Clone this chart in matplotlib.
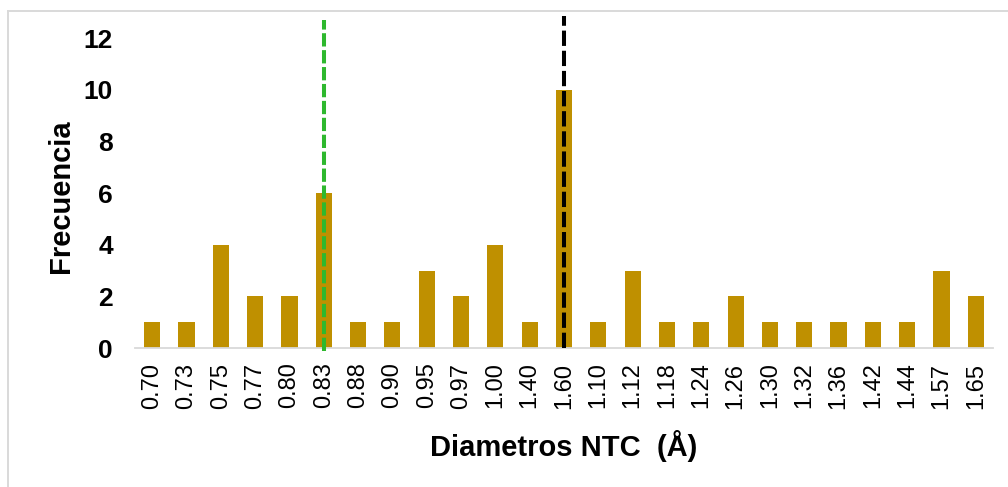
import matplotlib
matplotlib.use("Agg")
import matplotlib.pyplot as plt
from matplotlib.lines import Line2D

plt.rcParams['font.family'] = ['Liberation Sans', 'DejaVu Sans']

# Diameter classes (Å) and their counts
diametros = ["0.70", "0.73", "0.75", "0.77", "0.80", "0.83", "0.88", "0.90",
             "0.95", "0.97", "1.00", "1.40", "1.60", "1.10", "1.12", "1.18",
             "1.24", "1.26", "1.30", "1.32", "1.36", "1.42", "1.44", "1.57",
             "1.65"]
frecuencia = [1, 1, 4, 2, 2, 6, 1, 1, 3, 2, 4, 1, 10, 1, 3, 1, 1, 2, 1, 1,
              1, 1, 1, 3, 2]

# Reference diameters marked with dashed lines
ref_verde = "0.83"
ref_negra = "1.60"
yticks = [0, 2, 4, 6, 8, 10, 12]

W, H = 1008, 487
fig = plt.figure(figsize=(W / 100, H / 100), dpi=100)

# Outer chart frame (top and left edges)
frame_c = "#D9D9D9"
fig.add_artist(Line2D([8 / W, 1.0], [1 - 11 / H, 1 - 11 / H],
                      transform=fig.transFigure, color=frame_c, lw=1.4))
fig.add_artist(Line2D([8 / W, 8 / W], [0, 1 - 11 / H],
                      transform=fig.transFigure, color=frame_c, lw=1.4))

ymax = 12.9
px_per_unit = 25.8
ax = fig.add_axes([135 / W, 139 / H, 858 / W, ymax * px_per_unit / H])

x = list(range(len(diametros)))
ax.bar(x, frecuencia, width=0.47, color="#BF9000", zorder=2)

ax.set_xlim(-0.5, len(diametros) - 0.5)
ax.set_ylim(0, ymax)
ax.set_yticks(yticks)
ax.set_xticks(x)
ax.set_xticklabels(diametros, rotation=90, fontsize=17)
ax.tick_params(axis="x", length=0, pad=10.5)
ax.tick_params(axis="y", length=0, pad=16, labelsize=19)
for lbl in ax.get_yticklabels():
    lbl.set_fontweight("bold")

for side in ("top", "right", "left"):
    ax.spines[side].set_visible(False)
ax.spines["bottom"].set_color("#D9D9D9")
ax.spines["bottom"].set_linewidth(1.3)

# Dashed reference lines
xv = diametros.index(ref_verde)
xn = diametros.index(ref_negra)
ax.plot([xv, xv], [-0.1, 12.7], color="#2EB82E", lw=2.9,
        dashes=(3.3, 0.9), clip_on=False, zorder=3)
ax.plot([xn, xn], [0, 12.85], color="black", lw=2.9,
        dashes=(3.8, 1.2), clip_on=False, zorder=3)

ax.set_ylabel("Frecuencia", fontsize=21, fontweight="bold")
ax.yaxis.set_label_coords(61 / W, 1 - 196 / H, transform=fig.transFigure)
ax.set_xlabel("Diametros NTC  (Å)", fontsize=21, fontweight="bold")
ax.xaxis.set_label_coords(564 / W, 1 - 446 / H, transform=fig.transFigure)
ax.xaxis.label.set_va("center")
ax.yaxis.label.set_va("center")

fig.savefig("out.png", dpi=100)
